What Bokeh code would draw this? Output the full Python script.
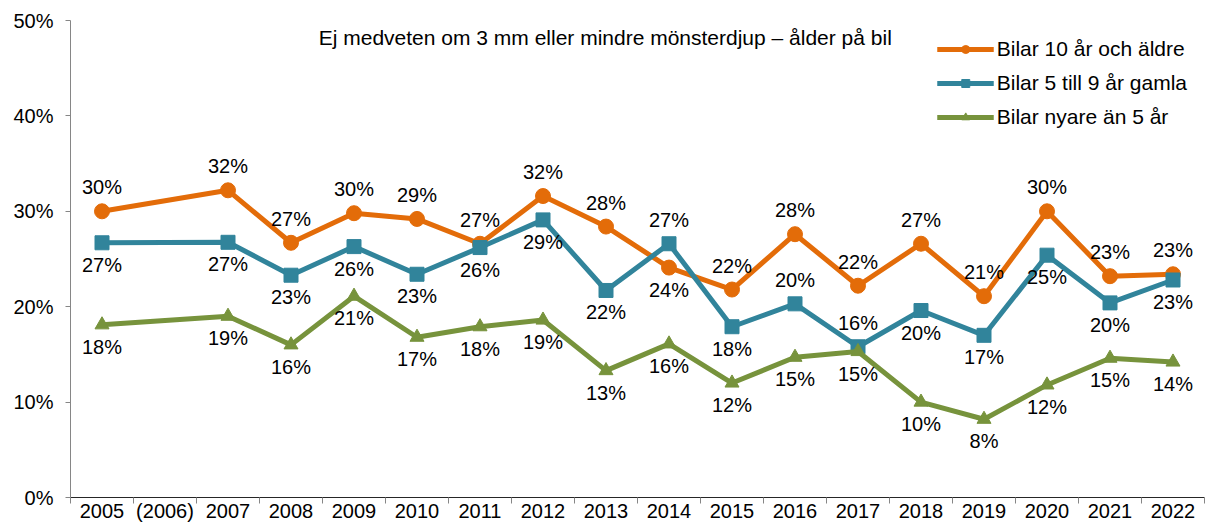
from bokeh.plotting import figure
from bokeh.models import FixedTicker, Legend, LegendItem, Label, ColumnDataSource, Range1d
from bokeh.core.properties import value
from bokeh.embed import file_html
from bokeh.resources import INLINE

categories = ["2005", "(2006)", "2007", "2008", "2009", "2010", "2011", "2012", "2013",
              "2014", "2015", "2016", "2017", "2018", "2019", "2020", "2021", "2022"]
years = ["2005", "2007", "2008", "2009", "2010", "2011", "2012", "2013",
         "2014", "2015", "2016", "2017", "2018", "2019", "2020", "2021", "2022"]

older = [30.0, 32.2, 26.7, 29.8, 29.2, 26.6, 31.6, 28.4, 24.1, 21.8, 27.6, 22.2, 26.6, 21.1, 30.0, 23.2, 23.4]
mid = [26.7, 26.75, 23.3, 26.3, 23.4, 26.2, 29.1, 21.7, 26.6, 17.9, 20.3, 15.8, 19.6, 17.0, 25.4, 20.4, 22.8]
newer = [18.1, 19.0, 16.0, 21.1, 16.8, 17.9, 18.6, 13.3, 16.1, 12.0, 14.7, 15.3, 10.0, 8.2, 11.8, 14.6, 14.2]

series_names = ["Bilar 10 år och äldre", "Bilar 5 till 9 år gamla", "Bilar nyare än 5 år"]
title_text = "Ej medveten om 3 mm eller mindre mönsterdjup – ålder på bil"

y_ticks = [0, 10, 20, 30, 40, 50]
y_tick_labels = ["0%", "10%", "20%", "30%", "40%", "50%"]

# label placement: a = above, b = below
older_pos = ["a"] * 8 + ["b"] + ["a"] * 8
mid_pos = ["b"] * 8 + ["a", "b", "a", "a"] + ["b"] * 5
newer_pos = ["b"] * 17

colors = ["#E36C09", "#31849B", "#77933C"]
markers = ["circle", "square", "triangle"]
msizes = [15, 14, 14]

FONT = "Liberation Sans"

p = figure(width=1206, height=524, output_backend="svg", toolbar_location=None,
           x_range=Range1d(0, len(categories)), y_range=Range1d(0, 50),
           min_border_left=70, min_border_right=2, min_border_top=20, min_border_bottom=27)
p.outline_line_color = None
p.xgrid.visible = False
p.ygrid.visible = False

xs = [categories.index(y) + 0.5 for y in years]

items = []
for vals, pos, col, mk, ms, name in zip([older, mid, newer], [older_pos, mid_pos, newer_pos],
                                        colors, markers, msizes, series_names):
    src = ColumnDataSource(dict(
        x=xs, y=vals,
        lab=[f"{round(v)}%" for v in vals],
        off=[-24 if q == "a" else 22 for q in pos],
    ))
    ln = p.line("x", "y", source=src, line_color=col, line_width=5)
    sc = p.scatter("x", "y", source=src, marker=mk, size=ms, fill_color=col, line_color=col)
    p.text("x", "y", text="lab", source=src, y_offset="off", text_align="center",
           text_baseline="middle", text_font=value(FONT), text_font_size="20px",
           text_color="#000000")
    items.append(LegendItem(label=name, renderers=[ln, sc]))

legend = Legend(items=items, location="top_right", glyph_width=57, glyph_height=20,
                label_height=21, label_standoff=3, spacing=10, padding=3, margin=14,
                label_text_font=FONT, label_text_font_size="21px", label_text_color="#000000",
                border_line_alpha=0, background_fill_alpha=0)
p.add_layout(legend)

p.add_layout(Label(x=3.94, y=48.2, text=title_text, text_align="left", text_baseline="middle",
                   text_font=FONT, text_font_size="21px", text_color="#000000"))

# axes
p.yaxis.ticker = FixedTicker(ticks=y_ticks, minor_ticks=[])
p.yaxis.major_label_overrides = {t: l for t, l in zip(y_ticks, y_tick_labels)}
p.yaxis.axis_line_color = "#868686"
p.yaxis.major_tick_line_color = "#868686"
p.yaxis.major_tick_out = 5
p.yaxis.major_tick_in = 0
p.yaxis.major_label_text_font = FONT
p.yaxis.major_label_text_font_size = "20px"
p.yaxis.major_label_text_color = "#000000"
p.yaxis.major_label_standoff = 12

p.xaxis.ticker = FixedTicker(ticks=[i + 0.5 for i in range(len(categories))],
                             minor_ticks=list(range(len(categories) + 1)))
p.xaxis.major_label_overrides = {i + 0.5: c for i, c in enumerate(categories)}
p.xaxis.axis_line_color = "#262626"
p.xaxis.major_tick_line_color = None
p.xaxis.major_tick_out = 0
p.xaxis.major_tick_in = 0
p.xaxis.minor_tick_line_color = "#868686"
p.xaxis.minor_tick_out = 6
p.xaxis.minor_tick_in = 0
p.xaxis.major_label_text_font = FONT
p.xaxis.major_label_text_font_size = "20px"
p.xaxis.major_label_text_color = "#000000"
p.xaxis.major_label_standoff = -4

open("out.html", "w").write(file_html(p, INLINE))
